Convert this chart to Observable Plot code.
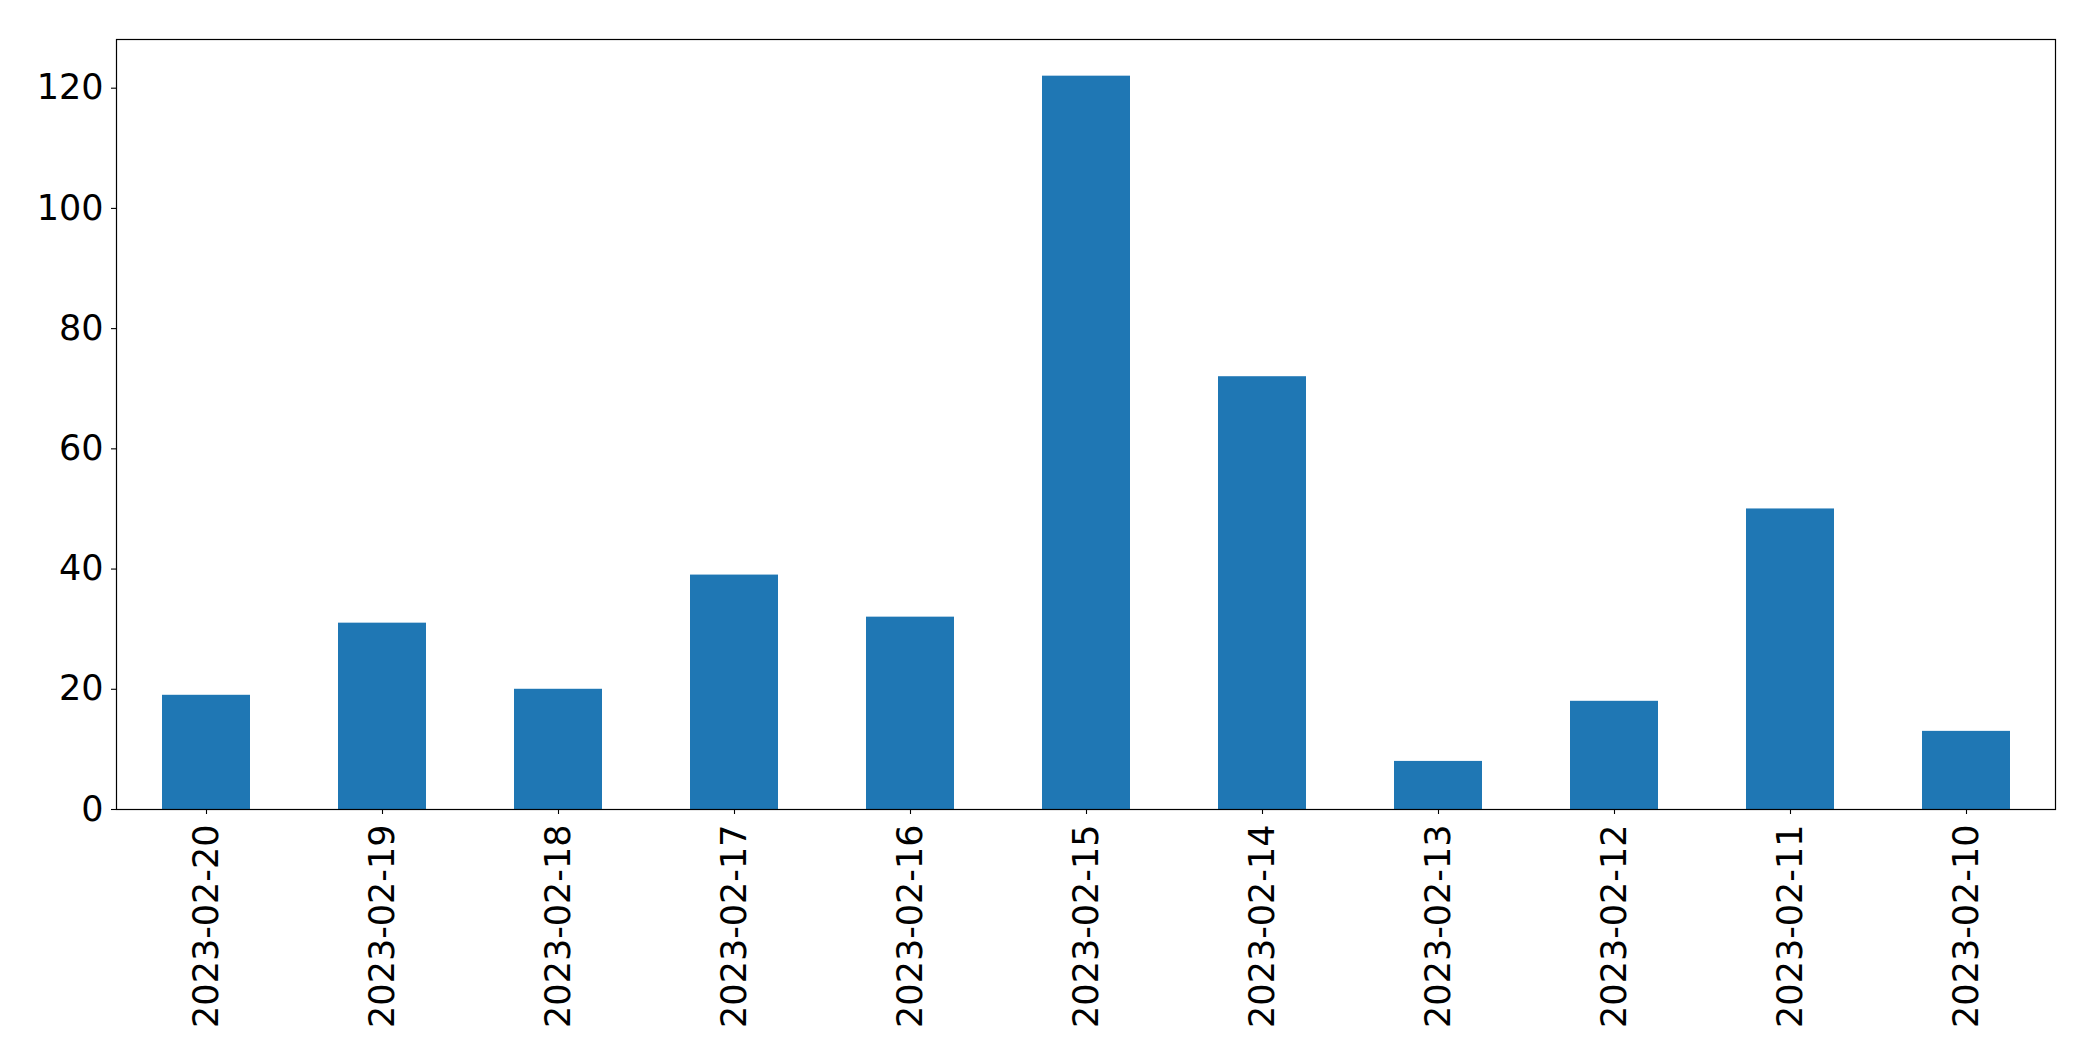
<!DOCTYPE html>
<html>
<head>
<meta charset="utf-8">
<script src="https://cdn.jsdelivr.net/npm/d3@7"></script>
<script src="https://cdn.jsdelivr.net/npm/@observablehq/plot@0.6"></script>
<style>
  html, body { margin: 0; padding: 0; background: #fff; }
</style>
</head>
<body>
<div id="chart"></div>
<script>
const dates = ["2023-02-20", "2023-02-19", "2023-02-18", "2023-02-17", "2023-02-16", "2023-02-15", "2023-02-14", "2023-02-13", "2023-02-12", "2023-02-11", "2023-02-10"];
const counts = [19, 31, 20, 39, 32, 122, 72, 8, 18, 50, 13];
const yTicks = [0, 20, 40, 60, 80, 100, 120];

const data = dates.map((d, i) => ({date: d, count: counts[i]}));

const chart = Plot.plot({
  width: 2093,
  height: 1061,
  marginLeft: 116,
  marginRight: 38,
  marginTop: 39,
  marginBottom: 252,
  style: {fontFamily: "DejaVu Sans", fontSize: "35px", color: "#000", background: "#fff"},
  x: {domain: dates, paddingInner: 0.5, paddingOuter: 0.25, label: null},
  y: {domain: [0, 122 * 1.05], label: null},
  marks: [
    Plot.barY(data, {x: "date", y: "count", fill: "#1f77b4"}),
    Plot.axisY({ticks: yTicks, tickSize: 5, tickPadding: 8, fontSize: 35, label: null, stroke: "#000", strokeWidth: 1.1}),
    Plot.axisX({tickRotate: -90, tickSize: 5, tickPadding: 10, fontSize: 35, label: null, stroke: "#000", strokeWidth: 1.1}),
    Plot.frame({stroke: "#000", strokeWidth: 1.2})
  ]
});
document.getElementById("chart").appendChild(chart);
</script>
</body>
</html>
